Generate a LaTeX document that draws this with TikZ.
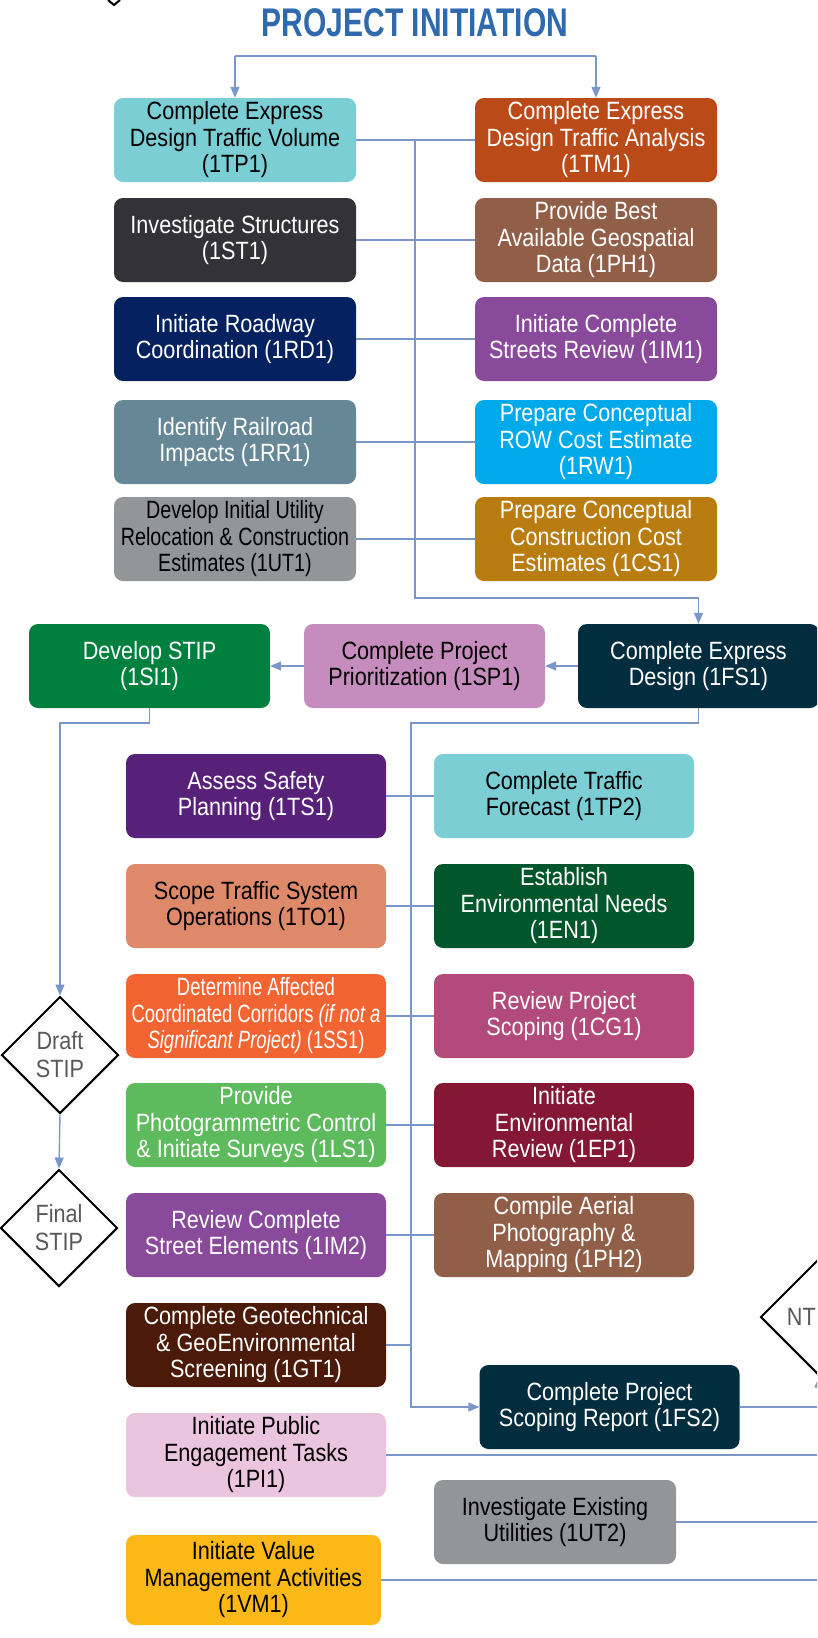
\documentclass[tikz,border=0pt]{standalone}
\usepackage{fontspec}
\setmainfont[FakeStretch=0.865, ItalicFeatures={FakeStretch=0.865}]{Liberation Sans}
\newfontfamily\titlefont[FakeStretch=0.75, BoldFeatures={FakeStretch=0.75}]{Liberation Sans}
\newfontfamily\narrowA[FakeStretch=0.79, ItalicFeatures={FakeStretch=0.79}]{Liberation Sans}
\newfontfamily\narrowB[FakeStretch=0.74, ItalicFeatures={FakeStretch=0.74}]{Liberation Sans}
\usetikzlibrary{arrows.meta,shapes.geometric}
\definecolor{linec}{HTML}{7B96C9}
\definecolor{titlec}{HTML}{2F69AE}
\definecolor{diatext}{HTML}{595959}
\definecolor{cTeal}{HTML}{7ACED4}
\definecolor{cTM}{HTML}{BB4A19}
\definecolor{cST}{HTML}{333238}
\definecolor{cRD}{HTML}{05215F}
\definecolor{cRR}{HTML}{658796}
\definecolor{cGray}{HTML}{939598}
\definecolor{cBrown}{HTML}{915F48}
\definecolor{cPurple}{HTML}{8A4A9B}
\definecolor{cSky}{HTML}{00A9E9}
\definecolor{cGold}{HTML}{B97C10}
\definecolor{cSI}{HTML}{00803F}
\definecolor{cSP}{HTML}{C68CBE}
\definecolor{cFS}{HTML}{022D3E}
\definecolor{cTS}{HTML}{572079}
\definecolor{cTO}{HTML}{DF896B}
\definecolor{cEN}{HTML}{02562B}
\definecolor{cSS}{HTML}{F26532}
\definecolor{cCG}{HTML}{B24B7B}
\definecolor{cLS}{HTML}{5DBB5D}
\definecolor{cEP}{HTML}{841834}
\definecolor{cGT}{HTML}{4B1A09}
\definecolor{cPI}{HTML}{EBC4DE}
\definecolor{cVM}{HTML}{FBB817}
\begin{document}
\begin{tikzpicture}[x=1pt,y=-1pt,
  box/.style={rounded corners=9pt, inner sep=0pt, align=center, minimum height=84pt,
    font=\fontsize{25}{26.5}\selectfont, text=white},
  boxA/.style={box, minimum width=242pt},
  boxC/.style={box, minimum width=260pt},
  conn/.style={draw=linec, line width=1.4pt},
  arr/.style={conn, -{Triangle[length=11pt,width=9pt]}},
  dia/.style={diamond, draw=black, line width=2pt, minimum width=117pt, minimum height=117pt,
    inner sep=0pt, aspect=1, align=center, text=diatext, font=\fontsize{25}{28}\selectfont}]
\useasboundingbox (0,0) rectangle (817,1638);
\clip (0,0) rectangle (817,1638);
\fill[white] (0,0) rectangle (817,1638);

% title
\node[font=\titlefont\bfseries\fontsize{40}{44}\selectfont, text=titlec] (title) at (415,23) {PROJECT INITIATION};

% fragment of a diamond at the top edge
\draw[black, line width=2pt] (108,0) -- (114,5) -- (120,0);

% column A
\node[boxA, fill=cTeal, text=black] (tp1) at (235,140) {Complete Express\\Design Traffic Volume\\(1TP1)};
\node[boxA, fill=cST] (st1) at (235,240) {Investigate Structures\\(1ST1)};
\node[boxA, fill=cRD] (rd1) at (235,339) {Initiate Roadway\\Coordination (1RD1)};
\node[boxA, fill=cRR] (rr1) at (235,442) {Identify Railroad\\Impacts (1RR1)};
\node[boxA, fill=cGray, text=black, font=\narrowA\fontsize{25}{26.5}\selectfont] (ut1) at (235,539) {Develop Initial Utility\\Relocation \& Construction\\Estimates (1UT1)};

% column B
\node[boxA, fill=cTM] (tm1) at (596,140) {Complete Express\\Design Traffic Analysis\\(1TM1)};
\node[boxA, fill=cBrown] (ph1) at (596,240) {Provide Best\\Available Geospatial\\Data (1PH1)};
\node[boxA, fill=cPurple] (im1) at (596,339) {Initiate Complete\\Streets Review (1IM1)};
\node[boxA, fill=cSky] (rw1) at (596,442) {Prepare Conceptual\\ROW Cost Estimate\\(1RW1)};
\node[boxA, fill=cGold] (cs1) at (596,539) {Prepare Conceptual\\Construction Cost\\Estimates (1CS1)};

% row 2
\node[box, minimum width=241pt, fill=cSI] (si1) at (149.5,666) {Develop STIP\\(1SI1)};
\node[box, minimum width=241pt, fill=cSP, text=black] (sp1) at (424.5,666) {Complete Project\\Prioritization (1SP1)};
\node[box, minimum width=241pt, fill=cFS] (fs1) at (698.5,666) {Complete Express\\Design (1FS1)};

% column C
\node[boxC, fill=cTS] (ts1) at (256,796) {Assess Safety\\Planning (1TS1)};
\node[boxC, fill=cTO, text=black] (to1) at (256,906) {Scope Traffic System\\Operations (1TO1)};
\node[boxC, fill=cSS, font=\narrowB\fontsize{25}{26.5}\selectfont] (ss1) at (256,1016) {Determine Affected\\Coordinated Corridors \textit{(if not a}\\\textit{Significant Project)} (1SS1)};
\node[boxC, fill=cLS] (ls1) at (256,1125) {Provide\\Photogrammetric Control\\\& Initiate Surveys (1LS1)};
\node[boxC, fill=cPurple] (im2) at (256,1235) {Review Complete\\Street Elements (1IM2)};
\node[boxC, fill=cGT] (gt1) at (256,1345) {Complete Geotechnical\\\& GeoEnvironmental\\Screening (1GT1)};
\node[boxC, fill=cPI, text=black] (pi1) at (256,1455) {Initiate Public\\Engagement Tasks\\(1PI1)};
\node[box, minimum width=255pt, minimum height=90pt, fill=cVM, text=black] (vm1) at (253.5,1580) {Initiate Value\\Management Activities\\(1VM1)};

% column D
\node[boxC, fill=cTeal, text=black] (tp2) at (564,796) {Complete Traffic\\Forecast (1TP2)};
\node[boxC, fill=cEN] (en1) at (564,906) {Establish\\Environmental Needs\\(1EN1)};
\node[boxC, fill=cCG] (cg1) at (564,1016) {Review Project\\Scoping (1CG1)};
\node[boxC, fill=cEP] (ep1) at (564,1125) {Initiate\\Environmental\\Review (1EP1)};
\node[boxC, fill=cBrown] (ph2) at (564,1235) {Compile Aerial\\Photography \&\\Mapping (1PH2)};
\node[boxC, fill=cFS] (fs2) at (609.5,1407) {Complete Project\\Scoping Report (1FS2)};
\node[boxA, fill=cGray, text=black] (ut2) at (555,1522) {Investigate Existing\\Utilities (1UT2)};

% diamonds
\node[dia] (draft) at (60,1055) {Draft\\STIP};
\node[dia] (final) at (59,1228) {Final\\STIP};
\node[dia] (nt) at (819,1317) {};
\node[anchor=east, inner sep=0pt, text=diatext, font=\fontsize{25}{28}\selectfont] (ntl) at (816,1317) {NT};

% connectors: top
\coordinate (tl) at (235,56);
\coordinate (tr) at (596,56);
\draw[conn] (tl) -- (tr);
\draw[arr] (tl) -- (tp1.north);
\draw[arr] (tr) -- (tm1.north);

% rows A-B
\draw[conn] (tp1.east) -- (tm1.west);
\draw[conn] (st1.east) -- (ph1.west);
\draw[conn] (rd1.east) -- (im1.west);
\draw[conn] (rr1.east) -- (rw1.west);
\draw[conn] (ut1.east) -- (cs1.west);

% bus to 1FS1
\coordinate (b1) at (415,140);
\coordinate (b2) at (415,598);
\draw[arr] (b1) -- (b2) -| (fs1.north);

% row 2
\draw[arr] (fs1.west) -- (sp1.east);
\draw[arr] (sp1.west) -- (si1.east);

% STIP path
\coordinate (d1) at (60,723);
\draw[arr] (si1.south) |- (d1) -- (draft.north);
\draw[arr] (draft.south) -- (final.north);

% bus to 1FS2
\coordinate (e1) at (411,723);
\coordinate (e2) at (411,1407);
\draw[arr] (fs1.south) |- (e1) -- (e2) -- (fs2.west);

% rows C-D
\draw[conn] (ts1.east) -- (tp2.west);
\draw[conn] (to1.east) -- (en1.west);
\draw[conn] (ss1.east) -- (cg1.west);
\draw[conn] (ls1.east) -- (ep1.west);
\draw[conn] (im2.east) -- (ph2.west);
\draw[conn] (gt1.east) -- (gt1.east -| e1);

% to NT
\draw[arr] (fs2.east) -| (nt.south);

% lines leaving to the right
\coordinate (r) at (825,0);
\draw[conn] (pi1.east) -- (pi1.east -| r);
\draw[conn] (ut2.east) -- (ut2.east -| r);
\draw[conn] (vm1.east) -- (vm1.east -| r);
\end{tikzpicture}
\end{document}
